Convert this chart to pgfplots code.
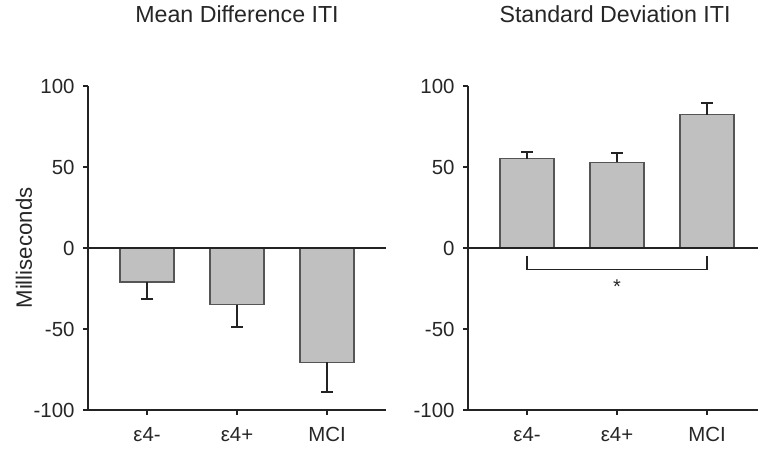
\documentclass[border=0pt]{standalone}
\usepackage{pgfplots}
\pgfplotsset{compat=1.18}
\usepackage{fontspec}
\setmainfont{Liberation Sans}
\definecolor{barfill}{RGB}{192,192,192}
\definecolor{baredge}{RGB}{85,85,85}
\definecolor{axcol}{RGB}{35,35,35}
\pgfplotsset{
  mystyle/.style={
    scale only axis, height=324bp,
    ymin=-100, ymax=100, xmin=-0.656,
    axis x line*=bottom, axis y line*=left,
    axis line style={axcol, line width=1.6pt, -},
    ytick={-100,-50,0,50,100},
    xtick={0,1,2}, xticklabels={ε4-, ε4+, MCI},
    tick align=outside, major tick length=5bp,
    tick style={axcol, line width=1.5pt},
    /pgf/number format/assume math mode=true,
    ticklabel style={font=\fontsize{20.5}{24}\selectfont, text=black!85},
    yticklabel style={xshift=-5bp},
    xticklabel style={yshift=-9bp},
    title style={font=\fontsize{23.3}{27}\selectfont, text=black!85, anchor=base, yshift=58bp},
    clip=false,
    ybar, bar width=0.6,
    error bars/error bar style={axcol, line width=1.8pt},
    error bars/error mark options={rotate=90, axcol, line width=1.8pt, mark size=6bp},
  }
}
\begin{document}
\begin{tikzpicture}
\useasboundingbox (0,0) rectangle (758bp,452bp);
\begin{axis}[mystyle, at={(88bp,42bp)}, anchor=south west, width=298bp, xmax=2.656,
  title={Mean Difference ITI}, title style={at={(0.5,1)}},
  ylabel={Milliseconds},
  ylabel style={font=\fontsize{22.3}{26}\selectfont, text=black!85, at={(axis description cs:-0.188,0.5)}, anchor=base},
  error bars/y dir=minus, error bars/y explicit]
\addplot[fill=barfill, draw=baredge, line width=1.2pt] coordinates {(0,-21) +- (0,10.5) (1,-35) +- (0,13.6) (2,-70.6) +- (0,18.1)};
\draw[axcol, line width=1.5pt] (axis cs:-0.656,0) -- (axis cs:2.656,0);
\end{axis}
\begin{axis}[mystyle, at={(468bp,42bp)}, anchor=south west, width=290bp, xmax=2.567,
  title={Standard Deviation ITI}, title style={at={(0.507,1)}},
  error bars/y dir=plus, error bars/y explicit]
\addplot[fill=barfill, draw=baredge, line width=1.2pt] coordinates {(0,55) +- (0,4.5) (1,53) +- (0,5.4) (2,82.3) +- (0,7.2)};
\draw[axcol, line width=1.5pt] (axis cs:-0.656,0) -- (axis cs:2.567,0);
\draw[axcol, line width=1.5pt] (axis cs:0,-4.7) -- (axis cs:0,-13.4) -- (axis cs:2,-13.4) -- (axis cs:2,-4.7);
\node[font=\fontsize{20}{24}\selectfont, text=black!85] at (axis cs:1,-24) {*};
\end{axis}
\end{tikzpicture}
\end{document}
